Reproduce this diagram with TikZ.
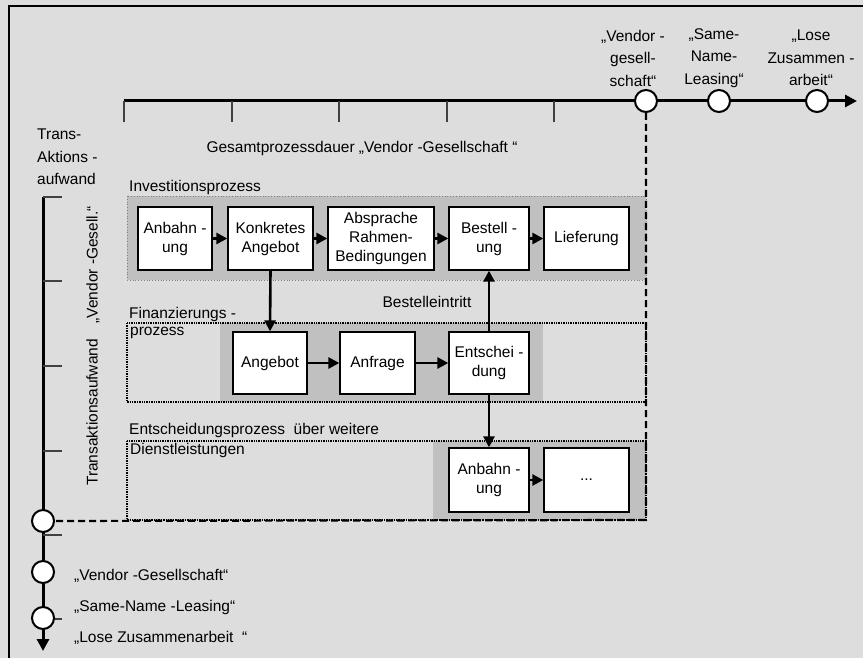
\documentclass[tikz,border=0pt]{standalone}
\usepackage{fontspec}
\setmainfont{Liberation Sans}
\usetikzlibrary{arrows.meta}

\definecolor{bggray}{RGB}{221,221,221}
\definecolor{procgray}{RGB}{192,192,192}
\definecolor{tickgray}{RGB}{64,64,64}

\tikzset{
  procbox/.style={draw, fill=white, line width=1.3, minimum height=63, inner sep=1, align=center},
  flow/.style={-{Triangle[length=11,width=11]}, line width=2.6},
  axisline/.style={line width=3},
  axistick/.style={tickgray, line width=1.8},
  milestone/.style={circle, draw, fill=white, line width=2, minimum size=22, inner sep=0},
  refline/.style={line width=2.2, dash pattern=on 7pt off 4pt},
  lbl/.style={inner sep=0, anchor=west, align=left}
}

\begin{document}
\begin{tikzpicture}[x=1pt, y=-1pt, font=\fontsize{15.5}{19}\selectfont]
% Background and frame
\useasboundingbox (0,0) rectangle (863,658);
\fill[bggray] (0,0) rectangle (863,658);
\draw[line width=1.5] (9,658) -- (9,6) -- (863,6);

% Process regions
\fill[procgray] (127,196) rectangle (646,280);
\draw[gray, dotted, line width=0.8] (127,196) rectangle (646,280);
\fill[procgray] (220,323) rectangle (543,402);
\draw[densely dotted, line width=1.4] (127,323) rectangle (646,402);
\fill[procgray] (433,441) rectangle (646,520);
\draw[densely dotted, line width=1.4] (127,441) rectangle (646,520);

% Time axis (top)
\draw[axisline, -{Triangle[length=12,width=12]}] (124,101) -- (857,101);
\draw[axistick] (124,101) -- (124,122) (232,101) -- (232,122) (339,101) -- (339,122)
  (447,101) -- (447,122) (554,101) -- (554,122);

% Effort axis (left)
\draw[axisline, -{Triangle[length=12,width=12]}] (43,197) -- (43,651);
\draw[axistick] (43,197) -- (62,197) (43,281) -- (62,281) (43,366) -- (62,366)
  (43,451) -- (62,451) (43,535) -- (62,535) (43,619) -- (62,619);

% Reference line "Vendor-Gesellschaft"
\coordinate (dcorner) at (646,520);

% Milestones
\node[milestone] (tv) at (646,101) {};
\node[milestone] (ts) at (719,101) {};
\node[milestone] (tl) at (817,101) {};
\node[milestone] (lv) at (43,521) {};
\node[milestone] (ls) at (43,572) {};
\node[milestone] (ll) at (43,618) {};
\draw[refline] (tv) -- (dcorner) -- (lv);

% Axis labels
\node[align=center, font=\fontsize{15.5}{22.5}\selectfont] (labv) at (633,58) {„Vendor -\\gesell-\\schaft“};
\node[align=center, font=\fontsize{15.5}{22.5}\selectfont] (labs) at (714,58) {„Same-\\Name-\\Leasing“};
\node[align=center, font=\fontsize{15.5}{22.5}\selectfont] (labl) at (811,58) {„Lose\\Zusammen -\\arbeit“};
\node[lbl, font=\fontsize{15.5}{22.5}\selectfont] (labtrans) at (37,157) {Trans-\\Aktions -\\aufwand};
\node (labdauer) at (362,148) {Gesamtprozessdauer „Vendor -Gesellschaft “};
\node[rotate=90] (labaufwand) at (93,346) {Transaktionsaufwand\quad„Vendor -Gesell.“};
\node[lbl] (legv) at (74,576) {„Vendor -Gesellschaft“};
\node[lbl] (legs) at (74,607) {„Same-Name -Leasing“};
\node[lbl] (legl) at (74,638) {„Lose Zusammenarbeit \ “};

% Region labels
\node[lbl] (labinv) at (129,187) {Investitionsprozess};
\node[lbl] (labfin) at (129,314) {Finanzierungs -};
\node[lbl] (labfin2) at (130,333) {prozess};
\node[lbl] (labent) at (129,430) {Entscheidungsprozess \ über weitere};
\node[lbl] (labent2) at (130,450) {Dienstleistungen};
\node (labbest) at (427,302) {Bestelleintritt};

% Investitionsprozess
\node[procbox, minimum width=74] (anb) at (175,238.5) {Anbahn -\\ung};
\node[procbox, minimum width=85] (konk) at (270.5,238.5) {Konkretes\\Angebot};
\node[procbox, minimum width=106] (abspr) at (381,238.5) {Absprache\\Rahmen-\\Bedingungen};
\node[procbox, minimum width=80] (best) at (489,238.5) {Bestell -\\ung};
\node[procbox, minimum width=85] (lief) at (586.5,238.5) {Lieferung};

% Finanzierungsprozess
\node[procbox, minimum width=74, minimum height=62] (angb) at (270,363) {Angebot};
\node[procbox, minimum width=75, minimum height=62] (anfr) at (377.5,363) {Anfrage};
\node[procbox, minimum width=80, minimum height=62] (ents) at (489,363) {Entschei -\\dung};

% Weitere Dienstleistungen
\node[procbox, minimum width=80, minimum height=64] (anb2) at (489,480) {Anbahn -\\ung};
\node[procbox, minimum width=85, minimum height=64] (more) at (586.5,480) {...};

% Flows
\draw[flow] (anb) -- (konk);
\draw[flow] (konk) -- (abspr);
\draw[flow] (abspr) -- (best);
\draw[flow] (best) -- (lief);
\draw[flow] (angb) -- (anfr);
\draw[flow] (anfr) -- (ents);
\draw[flow] (anb2) -- (more);
\draw[flow] (konk.south) -- (angb.north);
\draw[flow] (ents) -- (best);
\draw[flow] (ents) -- (anb2);
\end{tikzpicture}
\end{document}
